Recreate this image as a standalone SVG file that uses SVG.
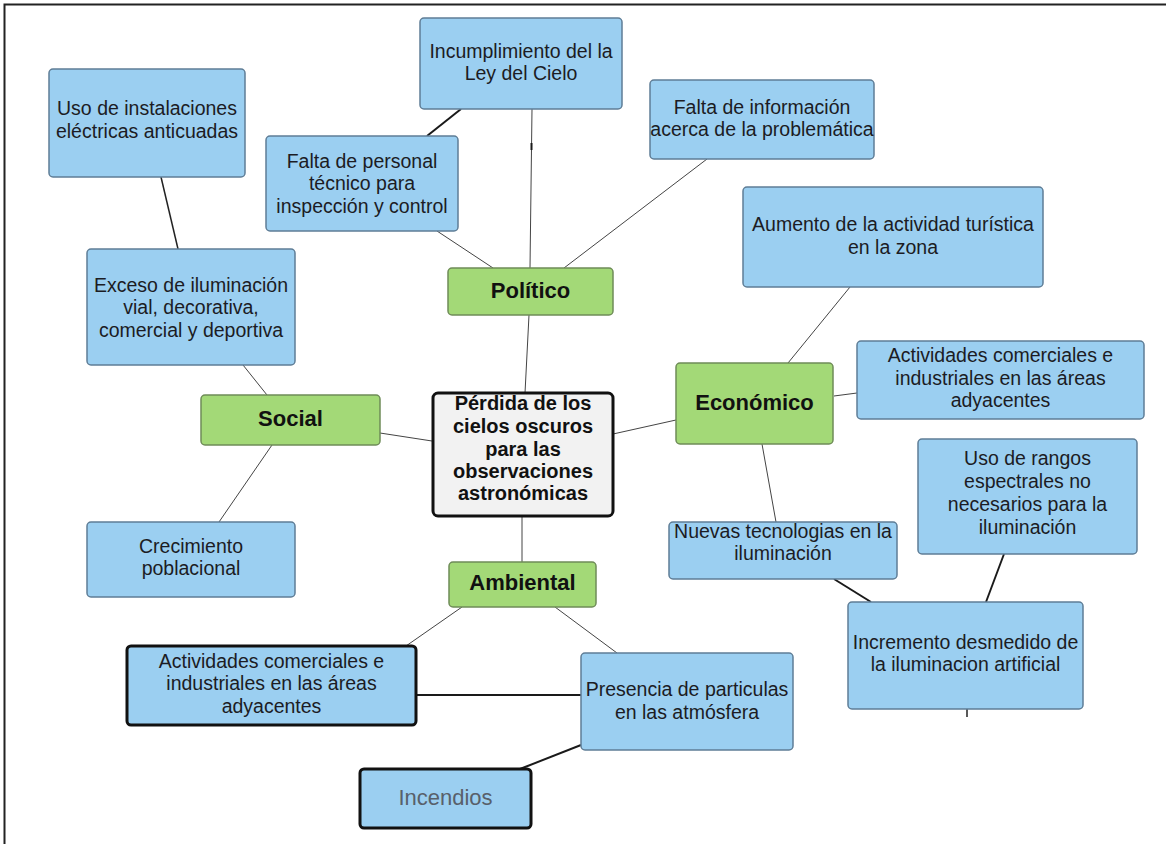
<svg xmlns="http://www.w3.org/2000/svg" width="1166" height="844" viewBox="0 0 1166 844">
<style>
.b{fill:#9bcff1;stroke:#5f7d96;stroke-width:1.5}
.g{fill:#a3d977;stroke:#6f8c58;stroke-width:1.5}
.k{fill:#9bcff1;stroke:#111;stroke-width:3}
.c{fill:#f2f2f2;stroke:#111;stroke-width:3}
text{font-family:"Liberation Sans",Arial,sans-serif;text-anchor:middle;fill:#1c1c24}
.t{font-size:19.5px}
.h{font-size:22px;font-weight:bold;fill:#111}
.m{font-size:20px;font-weight:bold;fill:#111}
.n{stroke:#444;stroke-width:1;fill:none}
.w{stroke:#1a1a1a;stroke-width:2;fill:none}
</style>
<rect width="1166" height="844" fill="#fff"/>
<path d="M4.5 844V4.5H1166" fill="none" stroke="#222" stroke-width="2"/>
<g id="connectors">
<line class="n" x1="161" y1="177" x2="178" y2="249" style="stroke-width:1.5;stroke:#222"/>
<line class="w" x1="461" y1="109" x2="427" y2="136"/>
<line class="n" x1="437" y1="231" x2="493" y2="268"/>
<line class="n" x1="532" y1="109" x2="530" y2="268"/>
<line class="w" x1="531.5" y1="143" x2="531.5" y2="150"/>
<line class="n" x1="707" y1="159" x2="564" y2="268"/>
<line class="n" x1="243" y1="365" x2="267" y2="395"/>
<line class="n" x1="529" y1="315" x2="525" y2="393"/>
<line class="n" x1="850" y1="287" x2="788" y2="363"/>
<line class="n" x1="834" y1="396" x2="857" y2="393"/>
<line class="n" x1="613" y1="434" x2="676" y2="420"/>
<line class="n" x1="380" y1="433" x2="432" y2="441"/>
<line class="n" x1="272" y1="445" x2="219" y2="522"/>
<line class="n" x1="522" y1="516" x2="522" y2="562"/>
<line class="n" x1="462" y1="607" x2="406" y2="646"/>
<line class="n" x1="555" y1="607" x2="617" y2="653"/>
<line class="w" x1="416" y1="695" x2="581" y2="695"/>
<line class="w" x1="581" y1="745" x2="520" y2="769"/>
<line class="n" x1="762" y1="444" x2="776" y2="522"/>
<line class="w" x1="834" y1="579" x2="871" y2="602"/>
<line class="w" x1="1004" y1="554" x2="986" y2="602"/>
<line class="n" x1="967" y1="709" x2="967" y2="717" style="stroke-width:1.5;stroke:#222"/>
</g>
<g id="n-uso-instalaciones"><rect class="b" x="49" y="69" width="196" height="108" rx="4"/><text class="t" x="147" y="115">Uso de instalaciones</text><text class="t" x="147" y="138">eléctricas anticuadas</text></g>
<g id="n-incumplimiento"><rect class="b" x="420" y="18" width="202" height="91" rx="4"/><text class="t" x="521" y="58">Incumplimiento del la</text><text class="t" x="521" y="80">Ley del Cielo</text></g>
<g id="n-falta-personal"><rect class="b" x="266" y="136" width="192" height="95" rx="4"/><text class="t" x="362" y="168">Falta de personal</text><text class="t" x="362" y="190">técnico para</text><text class="t" x="362" y="213">inspección y control</text></g>
<g id="n-falta-info"><rect class="b" x="650" y="80" width="224" height="79" rx="4"/><text class="t" x="762" y="114">Falta de información</text><text class="t" x="762" y="136">acerca de la problemática</text></g>
<g id="n-politico"><rect class="g" x="448" y="268" width="165" height="47" rx="4"/><text class="h" x="530.5" y="298">Político</text></g>
<g id="n-exceso"><rect class="b" x="87" y="249" width="208" height="116" rx="4"/><text class="t" x="191" y="292">Exceso de iluminación</text><text class="t" x="191" y="314">vial, decorativa,</text><text class="t" x="191" y="337">comercial y deportiva</text></g>
<g id="n-aumento"><rect class="b" x="743" y="187" width="300" height="100" rx="4"/><text class="t" x="893" y="231">Aumento de la actividad turística</text><text class="t" x="893" y="254">en la zona</text></g>
<g id="n-social"><rect class="g" x="201" y="395" width="179" height="50" rx="4"/><text class="h" x="290.5" y="426">Social</text></g>
<g id="n-economico"><rect class="g" x="676" y="363" width="157" height="81" rx="4"/><text class="h" x="754.5" y="410">Económico</text></g>
<g id="n-actividades-econ"><rect class="b" x="857" y="341" width="287" height="78" rx="4"/><text class="t" x="1000.5" y="362">Actividades comerciales e</text><text class="t" x="1000.5" y="385">industriales en las áreas</text><text class="t" x="1000.5" y="407">adyacentes</text></g>
<g id="n-centro"><rect class="c" x="433" y="393" width="180" height="123" rx="5"/><text class="m" x="523" y="410">Pérdida de los</text><text class="m" x="523" y="433">cielos oscuros</text><text class="m" x="523" y="456">para las</text><text class="m" x="523" y="478">observaciones</text><text class="m" x="523" y="500">astronómicas</text></g>
<g id="n-uso-rangos"><rect class="b" x="918" y="439" width="219" height="115" rx="4"/><text class="t" x="1027.5" y="465">Uso de rangos</text><text class="t" x="1027.5" y="488">espectrales no</text><text class="t" x="1027.5" y="511">necesarios para la</text><text class="t" x="1027.5" y="534">iluminación</text></g>
<g id="n-crecimiento"><rect class="b" x="87" y="522" width="208" height="75" rx="4"/><text class="t" x="191" y="553">Crecimiento</text><text class="t" x="191" y="575">poblacional</text></g>
<g id="n-nuevas"><rect class="b" x="669" y="522" width="228" height="57" rx="4"/><text class="t" x="783" y="538">Nuevas tecnologias en la</text><text class="t" x="783" y="560">iluminación</text></g>
<g id="n-ambiental"><rect class="g" x="449" y="562" width="147" height="45" rx="4"/><text class="h" x="522.5" y="590">Ambiental</text></g>
<g id="n-incremento"><rect class="b" x="848" y="602" width="235" height="107" rx="4"/><text class="t" x="965.5" y="649">Incremento desmedido de</text><text class="t" x="965.5" y="671">la iluminacion artificial</text></g>
<g id="n-actividades-amb"><rect class="k" x="127" y="646" width="289" height="79" rx="4"/><text class="t" x="271.5" y="668">Actividades comerciales e</text><text class="t" x="271.5" y="690">industriales en las áreas</text><text class="t" x="271.5" y="713">adyacentes</text></g>
<g id="n-presencia"><rect class="b" x="581" y="653" width="212" height="97" rx="4"/><text class="t" x="687" y="696">Presencia de particulas</text><text class="t" x="687" y="719">en las atmósfera</text></g>
<g id="n-incendios"><rect class="k" x="360" y="769" width="171" height="59" rx="4"/><text x="445.5" y="805" style="font-size:22px;fill:#58606a">Incendios</text></g>
</svg>
